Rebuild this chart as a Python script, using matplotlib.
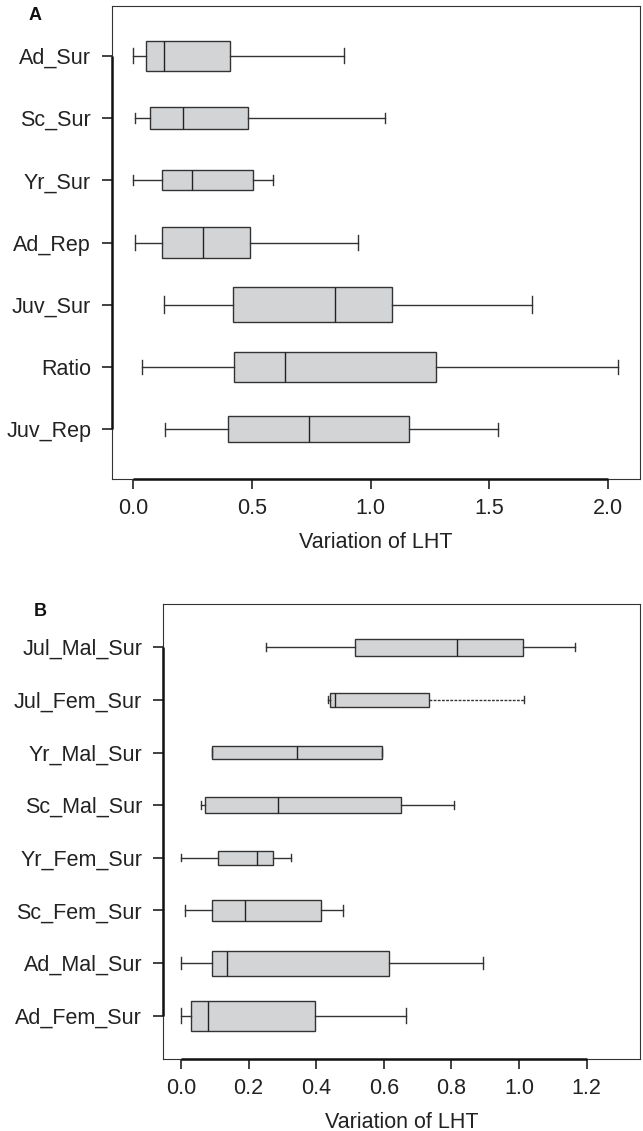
import matplotlib
matplotlib.use("Agg")
import matplotlib.pyplot as plt
import numpy as np

plt.rcParams['font.family'] = ['Liberation Sans', 'DejaVu Sans']

# ---------------- Panel A data ----------------
a_labels = ["Ad_Sur", "Sc_Sur", "Yr_Sur", "Ad_Rep", "Juv_Sur", "Ratio", "Juv_Rep"]
a_whislo = [0.000, 0.010, 0.000, 0.010, 0.131, 0.039, 0.136]
a_q1 = [0.056, 0.070, 0.122, 0.122, 0.422, 0.426, 0.400]
a_med = [0.131, 0.212, 0.250, 0.295, 0.849, 0.640, 0.742]
a_q3 = [0.407, 0.483, 0.507, 0.493, 1.092, 1.275, 1.163]
a_whishi = [0.887, 1.061, 0.588, 0.946, 1.678, 2.042, 1.536]
a_widths = [0.48, 0.34, 0.32, 0.50, 0.56, 0.47, 0.42]
a_xticks = [0.0, 0.5, 1.0, 1.5, 2.0]
a_xticklabels = ["0.0", "0.5", "1.0", "1.5", "2.0"]

# ---------------- Panel B data ----------------
b_labels = ["Jul_Mal_Sur", "Jul_Fem_Sur", "Yr_Mal_Sur", "Sc_Mal_Sur",
            "Yr_Fem_Sur", "Sc_Fem_Sur", "Ad_Mal_Sur", "Ad_Fem_Sur"]
b_whislo = [0.253, 0.435, 0.092, 0.059, 0.000, 0.012, 0.000, 0.000]
b_q1 = [0.514, 0.442, 0.092, 0.072, 0.111, 0.093, 0.093, 0.029]
b_med = [0.817, 0.456, 0.342, 0.287, 0.224, 0.190, 0.135, 0.081]
b_q3 = [1.013, 0.735, 0.594, 0.651, 0.272, 0.414, 0.617, 0.397]
b_whishi = [1.165, 1.016, 0.594, 0.809, 0.325, 0.480, 0.893, 0.666]
b_widths = [0.32, 0.27, 0.23, 0.30, 0.27, 0.41, 0.47, 0.56]
b_xticks = [0.0, 0.2, 0.4, 0.6, 0.8, 1.0, 1.2]
b_xticklabels = ["0.0", "0.2", "0.4", "0.6", "0.8", "1.0", "1.2"]

xlabel_text = "Variation of LHT"

FILL = "#d3d4d6"
EDGE = "#333333"
FS = 15.5

fig = plt.figure(figsize=(6.43, 11.31), dpi=100)
axA = fig.add_axes([112/643, 1-479/1131, 528/643, 473/1131])
axB = fig.add_axes([163/643, 1-1059/1131, 477/643, 455/1131])


def draw(ax, labels, wlo, q1, med, q3, whi, widths, xticks, xticklabels, xlim, ypad):
    n = len(labels)
    pos = np.arange(1, n + 1)
    stats = []
    for i in range(n):
        stats.append(dict(whislo=wlo[i], q1=q1[i], med=med[i], q3=q3[i],
                          whishi=whi[i], fliers=[]))
    w = np.array(widths)
    art = ax.bxp(stats, positions=pos, widths=w, capwidths=w * 0.5,
                 vert=False, patch_artist=True, showfliers=False,
                 boxprops=dict(facecolor=FILL, edgecolor=EDGE, linewidth=1.0),
                 medianprops=dict(color="#222222", linewidth=1.0),
                 whiskerprops=dict(color=EDGE, linewidth=1.0),
                 capprops=dict(color=EDGE, linewidth=1.0))
    ax.set_ylim(n + ypad, 1 - ypad)
    ax.set_xlim(*xlim)
    ax.set_yticks(pos)
    ax.set_yticklabels(labels, fontsize=FS, color="#222222")
    ax.set_xticks(xticks)
    ax.set_xticklabels(xticklabels, fontsize=FS, color="#222222")
    ax.tick_params(axis='both', length=7, width=1.3, color="#333333")
    ax.tick_params(axis='y', pad=8)
    ax.tick_params(axis='x', pad=7)
    for s in ax.spines.values():
        s.set_linewidth(0.8)
        s.set_color("#333333")
    # R-style axis lines from first to last tick
    ax.plot([xticks[0], xticks[-1]], [n + ypad, n + ypad], color="#111111",
            lw=1.8, clip_on=False, solid_capstyle='butt', zorder=5)
    ax.plot([xlim[0], xlim[0]], [pos[0], pos[-1]], color="#111111",
            lw=1.8, clip_on=False, solid_capstyle='butt', zorder=5)
    ax.set_xlabel(xlabel_text, fontsize=FS, color="#222222", labelpad=9)
    return art


draw(axA, a_labels, a_whislo, a_q1, a_med, a_q3, a_whishi, a_widths,
     a_xticks, a_xticklabels, (-0.0884, 2.1347), 0.8)
artB = draw(axB, b_labels, b_whislo, b_q1, b_med, b_q3, b_whishi, b_widths,
            b_xticks, b_xticklabels, (-0.053, 1.358), 0.82)
# dashed upper whisker on Jul_Fem_Sur
artB['whiskers'][2 * 1 + 1].set_linestyle((0, (2, 1)))

fig.text(35/643, 1-16/1131, "A", fontsize=13, fontweight='bold',
         ha='center', va='center', color="#111111")
fig.text(40/643, 1-612/1131, "B", fontsize=13, fontweight='bold',
         ha='center', va='center', color="#111111")

fig.savefig("out.png", dpi=100)
